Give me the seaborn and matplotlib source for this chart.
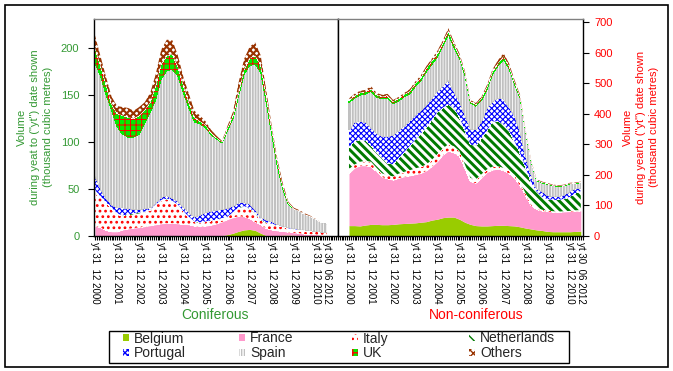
import numpy as np
import matplotlib
matplotlib.use('Agg')
import matplotlib.pyplot as plt
import seaborn as sns
from matplotlib.patches import Patch, Rectangle
from matplotlib.ticker import MultipleLocator

# quarterly readings, Dec 2000 .. Dec 2010, then two points up to Jun 2012
# Coniferous (left axis, thousand m3)
be_con = [0] * 23 + [0.5, 1.5, 3, 5, 6.5, 7, 6, 3, 0.5, 0, 0.3, 1, 1, 0.8, 0.3, 0, 0, 0, 0, 0]
fr_con = [10.6, 9, 6, 4.5, 4.5, 6.5, 7.5, 8.5, 9, 10, 11, 12, 13, 13.5, 13.5, 13, 12.4, 12, 10.5, 10,
          10.5, 11.5, 13, 14.5, 16, 16.5, 16, 14, 11.5, 9, 9, 7.5, 6.5, 5.2, 4, 3, 2.7, 2.7, 2, 1.8,
          1.5, 1, 0.7]
it_con = [35.4, 32, 29, 24.5, 18.5, 14.5, 14.5, 14.5, 15, 15.5, 16.5, 21, 25, 25.5, 23.5, 20, 13.6, 8,
          4.5, 4, 4.5, 4.5, 4, 3.5, 2.5, 5.5, 9, 10.5, 10.5, 9, 5, 6, 6, 5.5, 4.5, 4, 3.5, 3.4, 4,
          3.5, 3, 3, 2.8]
nl_con = [3, 1, 1, 1, 1, 1, 1, 1, 1, 0.5, 0.5, 0.5, 0.5, 0.5, 0.5, 0.5, 0.5, 0.5, 0.5, 0.5, 0.5,
          0.5, 0.5, 0.5, 0.5, 0.5, 0.5, 0.7, 0.7, 0.8, 0.8, 0.7, 0.5, 0.5, 0.5, 0.3, 0.2, 0.2, 0.2,
          0.2, 0.1, 0.1, 0.1]
pt_con = [15, 8, 4, 3, 6, 8, 6, 4.5, 3, 3, 2, 1.5, 2.5, 3.5, 2.5, 3.5, 4.5, 4.5, 4.5, 7.5, 9.5, 10,
          10, 9, 9, 6, 4.5, 3.8, 4.3, 3.2, 2.2, 2.3, 2, 0.9, 0.5, 0.7, 0.8, 0.4, 0.2, 0, 0.2, 0, 0]
es_con = [120, 120, 110, 101, 86, 78, 76, 76.5, 80, 91, 101, 110, 126, 132.5, 137, 133, 121, 111,
          101, 97, 90, 81.4, 75.5, 71, 82.5, 93.5, 114, 136.5, 147, 154.6, 154, 125, 93, 62.1, 39.1,
          24.7, 21, 19.6, 16.6, 15.5, 12.9, 9.9, 8.8]
uk_con = [16, 11, 11, 6, 14, 20, 21, 20, 20, 14, 11, 15, 16, 16, 16, 10, 8, 6, 5, 3, 3, 2, 1.5, 1,
          3, 3, 4, 5, 8, 9, 8, 7, 6, 5, 3.4, 1.8, 0, 0, 0, 0, 0, 0, 0]
ot_con = [13, 10, 8, 8, 8, 9, 10, 8, 9, 8, 10, 12, 15, 17, 15, 12, 9, 9, 7, 6, 4, 3, 2, 1, 2, 4,
          10, 11, 12, 14, 10, 6, 3, 3, 3, 1, 1, 0.9, 1, 0.5, 0.3, 0, 0]

# Non-coniferous (right axis, thousand m3)
be_non = [34, 34, 33, 36, 38, 38, 37, 37, 38, 40, 41, 42, 43, 45, 47, 52, 55, 60, 62, 62, 55, 45,
          38, 34, 33, 33, 34, 35, 35, 34, 33, 30, 26, 23, 20, 18, 15, 14, 14, 14, 14, 15, 16]
fr_non = [171, 188, 197, 194, 189, 173, 156, 150, 145, 149, 153, 155, 158, 160, 166, 175, 188, 205,
          216, 210, 207, 177, 140, 139, 157, 175, 182, 184, 179, 171, 157, 135, 106, 77, 67, 64, 65,
          64, 64, 65, 66, 66, 66]
it_non = [14, 12, 13, 16, 16, 12, 12, 12, 12, 15, 16, 18, 20, 21, 21, 22, 25, 22, 22, 22, 16, 12, 12,
          12, 12, 10, 11, 9, 9, 9, 10, 10, 8, 5, 5, 4, 3, 3, 2, 2, 2, 3, 3]
nl_non = [71, 76, 73, 66, 52, 52, 50, 39, 40, 51, 65, 80, 94, 109, 121, 131, 137, 133, 130, 126,
          112, 111, 110, 110, 118, 127, 148, 147, 142, 131, 110, 95, 85, 70, 53, 42, 37, 37, 38, 41,
          46, 56, 62]
pt_non = [57, 62, 58, 60, 60, 60, 70, 87, 95, 90, 85, 80, 80, 75, 73, 70, 70, 70, 81, 52, 50, 51,
          50, 52, 54, 73, 65, 76, 83, 75, 86, 72, 35, 25, 10, 17, 12, 11, 11, 12, 17, 15, 9]
es_non = [89, 79, 87, 92, 119, 120, 124, 127, 103, 97, 95, 90, 94, 98, 109, 111, 110, 130, 149, 146,
          142, 131, 85, 78, 70, 62, 89, 105, 130, 128, 101, 110, 81, 45, 26, 29, 37, 35.5, 33.5,
          30.5, 25.5, 16.5, 18.5]
uk_non = [8, 8, 8, 8, 8, 7, 7, 7, 7, 8, 8, 9, 10, 10, 11, 12, 12, 12, 12, 11, 10, 8, 6, 6, 7, 8, 9,
          10, 10, 9, 7, 5, 3, 2, 2, 2, 2, 1.5, 1.5, 1.5, 1.5, 1.5, 1.5]
ot_non = [6, 6, 6, 6, 8, 6, 6, 6, 5, 5, 5, 6, 6, 7, 7, 7, 8, 8, 8, 7, 6, 5, 4, 4, 5, 6, 7, 9, 10, 8,
          6, 5, 3, 2, 2, 2, 2, 2, 2, 2, 2, 2, 2]

countries = ['Belgium', 'France', 'Italy', 'Netherlands', 'Portugal', 'Spain', 'UK', 'Others']
tick_pos = list(range(0, 41, 4)) + [42]
tick_labels = ['yt 31  12 %d' % y for y in range(2000, 2011)] + ['yt 30  06 2012']

# face colour, hatch colour, hatch, hatch line width
styles = [
    ('#99cc00', '#99cc00', None, 0.5),
    ('#ff99cc', '#ff99cc', None, 0.5),
    ('white', '#ff0000', '...', 1.2),
    ('white', '#007a00', '\\\\\\\\', 2.1),
    ('white', '#0000ff', 'xxxxxx', 0.8),
    ('#c0c0c0', 'white', '||||||', 0.6),
    ('#00ee00', '#ff0000', '+++', 0.7),
    ('white', '#993300', 'xxxxx', 1.5),
]

green = '#339933'
red = '#ff0000'

sns.set_style('white')
plt.rcParams['font.family'] = ['Liberation Sans', 'DejaVu Sans']


def make_patch(i):
    fc, hc, h, hlw = styles[i]
    with plt.rc_context({'hatch.linewidth': hlw}):
        p = Patch(facecolor=fc, edgecolor=hc, hatch=h, linewidth=0, label=countries[i])
    if hasattr(p, 'set_hatch_linewidth'):
        p.set_hatch_linewidth(hlw)
    return p


def stack(ax, series):
    x = np.arange(len(series[0]))
    base = np.zeros(len(x))
    for vals, (fc, hc, h, hlw) in zip(series, styles):
        top = base + np.asarray(vals, float)
        with plt.rc_context({'hatch.linewidth': hlw}):
            c = ax.fill_between(x, base, top, facecolor=fc, edgecolor=hc, hatch=h,
                                linewidth=0, antialiased=False)
        if hasattr(c, 'set_hatch_linewidth'):
            c.set_hatch_linewidth(hlw)
        base = top


W, H = 673, 371
fig = plt.figure(figsize=(W / 100, H / 100), dpi=100)
ax1 = fig.add_axes([94 / W, 1 - 236 / H, 244 / W, 217 / H])
ax2 = fig.add_axes([338 / W, 1 - 236 / H, 245 / W, 217 / H])

stack(ax1, [be_con, fr_con, it_con, nl_con, pt_con, es_con, uk_con, ot_con])
stack(ax2, [be_non, fr_non, it_non, nl_non, pt_non, es_non, uk_non, ot_non])

ax1.set_xlim(-0.18, 44.0)
ax2.set_xlim(-1.99, 42.4)
ax1.set_ylim(0, 230.5)
ax2.set_ylim(0, 710)
ax1.set_yticks(range(0, 201, 50))
ax2.set_yticks(range(0, 701, 100))
ax2.yaxis.tick_right()

for ax in (ax1, ax2):
    ax.set_facecolor('white')
    ax.set_xticks(tick_pos)
    ax.set_xticklabels(tick_labels, rotation=270, fontsize=7)
    ax.xaxis.set_minor_locator(MultipleLocator(1 / 3))
    ax.tick_params(axis='x', which='both', bottom=True, top=False, length=3, width=0.8,
                   color='black', pad=1.5, labelcolor='black')
    for s in ax.spines.values():
        s.set_color('black')
        s.set_linewidth(1.0)
    ax.spines['top'].set_color('#808080')

ax1.tick_params(axis='y', left=True, right=False, length=4, width=0.8, pad=6.5,
                labelsize=8, labelcolor=green, color='black')
ax2.tick_params(axis='y', left=False, right=True, labelleft=False, labelright=True, length=4,
                width=0.8, pad=4, labelsize=8, labelcolor=red, color='black')

fig.text(35 / W, 1 - 127 / H, 'Volume\nduring yeat to ("yt") date shown\n(thousand cubic metres)',
         rotation=90, ha='center', va='center', multialignment='center', fontsize=8,
         color=green, linespacing=1.35)
fig.text(641 / W, 1 - 127 / H, 'Volume\nduring yearto ("yt") date shown\n(thousand cubic metres)',
         rotation=90, ha='center', va='center', multialignment='center', fontsize=8,
         color=red, linespacing=1.35)
fig.text(215 / W, 1 - 315 / H, 'Coniferous', ha='center', va='center', fontsize=10, color=green)
fig.text(476 / W, 1 - 315 / H, 'Non-coniferous', ha='center', va='center', fontsize=10, color=red)

# legend: one small legend per column, inside a drawn box
col_x = [123, 239, 352, 469]
for c in range(4):
    hs = [make_patch(c), make_patch(c + 4)]
    fig.legend(handles=hs, loc='upper left', bbox_to_anchor=(col_x[c] / W, 1 - 331.5 / H),
               frameon=False, fontsize=10, handlelength=0.45, handleheight=0.45,
               handletextpad=0.35, labelspacing=0.05, borderpad=0, borderaxespad=0)
fig.add_artist(Rectangle((108.5 / W, 1 - 363 / H), 460.5 / W, 32 / H, transform=fig.transFigure,
                         fill=False, edgecolor='black', linewidth=1.0))

fig.add_artist(Rectangle((4.5 / W, 4 / H), 663.5 / W, 362.5 / H, transform=fig.transFigure,
                         fill=False, edgecolor='black', linewidth=1.2))

fig.savefig('out.png', dpi=100)
